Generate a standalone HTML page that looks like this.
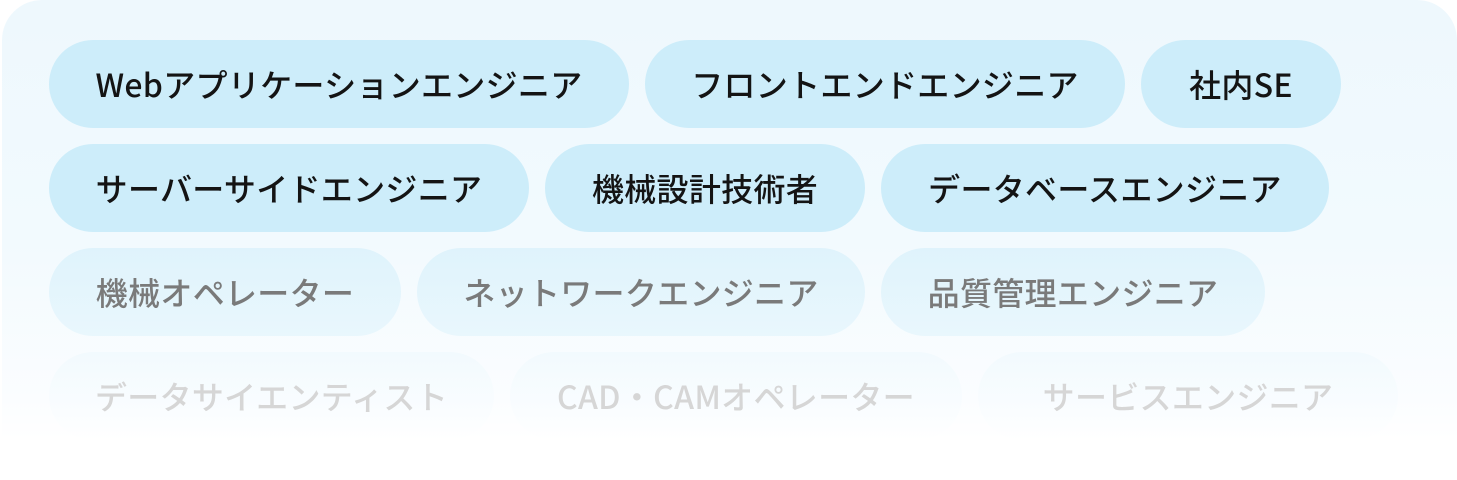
<!DOCTYPE html>
<html><head><meta charset="utf-8"><style>
html,body{margin:0;padding:0;width:1457px;height:480px;background:#fff;overflow:hidden}
.box{position:absolute;left:2px;top:0;width:1455px;height:480px;border-radius:40px 40px 0 0;
background:linear-gradient(#eef8fd 0px,#f2fafe 240px,#fbfdff 400px,#fff 440px)}
.p{position:absolute;height:88px;border-radius:44px;display:flex;align-items:center;justify-content:center;
font-family:"Noto Sans CJK JP",sans-serif;font-size:32px;font-weight:500;white-space:nowrap;letter-spacing:0.3px}
.r1,.r2{background:#cdedfa;color:#141414}
.r3{background:linear-gradient(#dff3fc,#e9f7fd);color:#7a7a7a}
.r4{background:linear-gradient(#f2fafe,#fafdff 70%,#fff);color:#d6d6d6}
</style></head><body>
<div class="box"></div>
<div class="p r1" style="left:49px;top:40px;width:580px">Webアプリケーションエンジニア</div>
<div class="p r1" style="left:645px;top:40px;width:480px">フロントエンドエンジニア</div>
<div class="p r1" style="left:1141px;top:40px;width:200px">社内SE</div>
<div class="p r2" style="left:49px;top:144px;width:480px">サーバーサイドエンジニア</div>
<div class="p r2" style="left:545px;top:144px;width:320px">機械設計技術者</div>
<div class="p r2" style="left:881px;top:144px;width:448px">データベースエンジニア</div>
<div class="p r3" style="left:49px;top:248px;width:352px">機械オペレーター</div>
<div class="p r3" style="left:417px;top:248px;width:448px">ネットワークエンジニア</div>
<div class="p r3" style="left:881px;top:248px;width:384px">品質管理エンジニア</div>
<div class="p r4" style="left:49px;top:352px;width:445px">データサイエンティスト</div>
<div class="p r4" style="left:510px;top:352px;width:452px">CAD・CAMオペレーター</div>
<div class="p r4" style="left:978px;top:352px;width:420px">サービスエンジニア</div>
</body></html>
